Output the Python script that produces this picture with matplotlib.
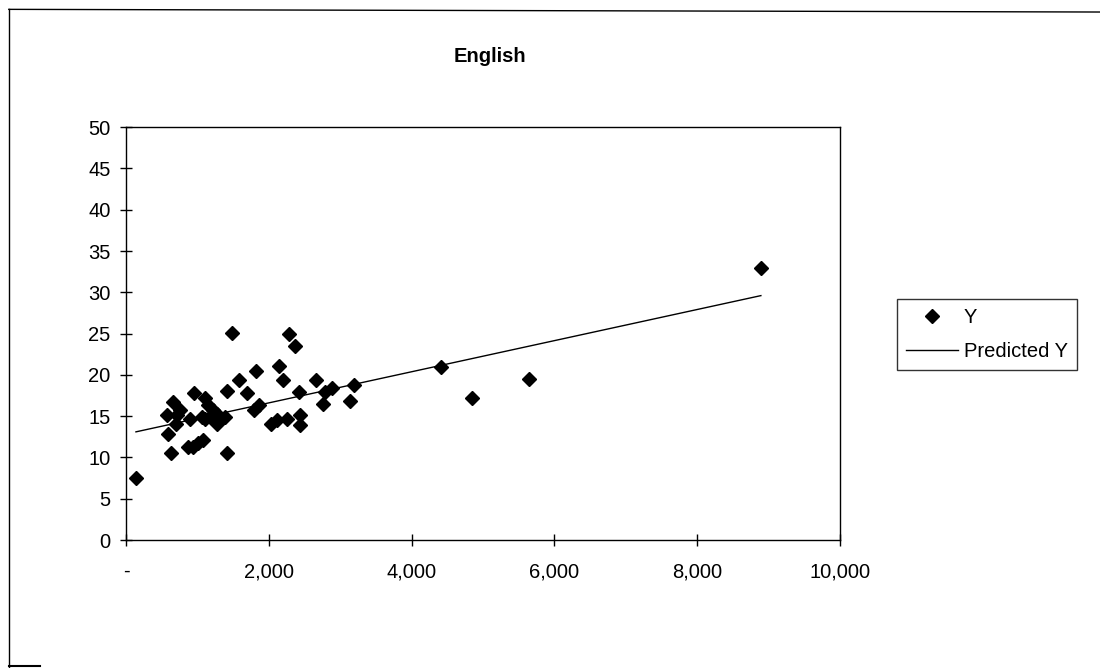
import matplotlib.pyplot as plt
from matplotlib.lines import Line2D
from matplotlib.ticker import FuncFormatter

plt.rcParams['font.family'] = ['Liberation Sans', 'DejaVu Sans']

# observed values
x_obs = [140, 570, 584, 630, 663, 700, 710, 756, 864, 896, 943, 957, 1013, 1060,
         1074, 1106, 1106, 1153, 1176, 1223, 1270, 1270, 1317, 1387, 1410, 1419,
         1480, 1587, 1690, 1793, 1821, 1867, 2026, 2110, 2143, 2194, 2250, 2283,
         2367, 2418, 2437, 2437, 2657, 2763, 2788, 2881, 3137, 3198, 4412, 4841,
         5649, 8894]
y_obs = [7.5, 15.1, 12.8, 10.5, 16.7, 14.1, 15.1, 15.7, 11.3, 14.7, 11.3, 17.8, 11.7,
         14.9, 12.1, 17.2, 14.7, 16.3, 14.9, 15.7, 15.3, 14.1, 14.7, 14.9, 10.5, 18.0,
         25.1, 19.4, 17.8, 15.8, 20.5, 16.3, 14.1, 14.5, 21.1, 19.4, 14.7, 25.0,
         23.5, 17.9, 15.2, 13.9, 19.4, 16.5, 17.9, 18.4, 16.8, 18.8, 21.0, 17.2,
         19.5, 32.9]

# fitted line end points
x_pred = [140, 8894]
y_pred = [13.1, 29.6]

fig = plt.figure(figsize=(11, 6.68), dpi=100)
ax = fig.add_axes([0.1145, 0.1916, 0.649, 0.618])

ax.plot(x_pred, y_pred, color='black', linewidth=1.0, zorder=2)
ax.plot(x_obs, y_obs, linestyle='none', marker='D', markersize=7.5,
        color='black', zorder=3)

ax.set_xlim(0, 10000)
ax.set_ylim(0, 50)
ax.set_xticks(range(0, 10001, 2000))
ax.set_yticks(range(0, 51, 5))
ax.xaxis.set_major_formatter(FuncFormatter(lambda v, p: '-' if v == 0 else f'{int(v):,}'))
ax.tick_params(direction='inout', length=8, width=1, labelsize=14.5)
ax.tick_params(axis='x', pad=12)
ax.tick_params(axis='y', pad=7)
for s in ax.spines.values():
    s.set_linewidth(1.0)
    s.set_color('black')

fig.text(0.445, 0.915, 'English', ha='center', va='center',
         fontsize=14.5, fontweight='bold')

handles = [
    Line2D([], [], linestyle='none', marker='D', markersize=7.5, color='black', label='Y'),
    Line2D([], [], color='black', linewidth=1.0, label='Predicted Y'),
]
leg = fig.legend(handles=handles, loc='upper left', bbox_to_anchor=(0.8155, 0.553),
                 frameon=True, fancybox=False, fontsize=14.5, handlelength=2.6,
                 borderpad=0.45, labelspacing=0.75, handletextpad=0.25, borderaxespad=0)
leg.get_frame().set_edgecolor('black')
leg.get_frame().set_linewidth(1.0)

# outer chart frame, cut off at the right and bottom
fig.add_artist(Line2D([0.008, 0.008], [0.0, 0.986], color='black', linewidth=1.0))
fig.add_artist(Line2D([0.008, 1.0], [0.986, 0.982], color='black', linewidth=1.0))
fig.add_artist(Line2D([0.008, 0.036], [0.003, 0.003], color='black', linewidth=1.5))

fig.savefig('out.png', dpi=100)
